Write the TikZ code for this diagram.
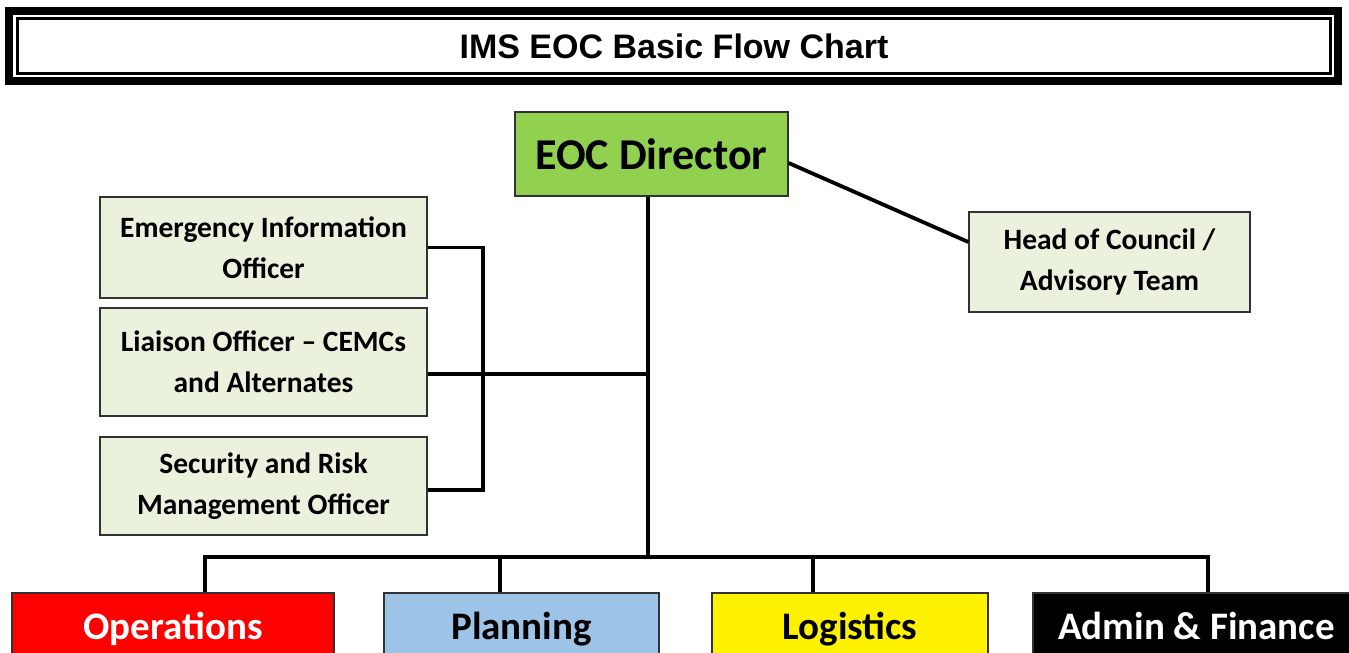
\documentclass[tikz,border=0pt]{standalone}
\usepackage{fontspec}
\setmainfont{Carlito}
\newfontfamily\titlefont{Liberation Sans}
\definecolor{eocgreen}{RGB}{146,208,80}
\definecolor{sidegreen}{RGB}{234,242,221}
\definecolor{planblue}{RGB}{157,195,230}
\definecolor{edgegray}{RGB}{50,50,50}
\begin{document}
\begin{tikzpicture}[x=1pt,y=-1pt,
  box/.style={draw=edgegray, line width=1.3pt, inner sep=0pt, align=center},
  side/.style={box, fill=sidegreen, font=\bfseries\fontsize{29.5}{41}\selectfont},
  dept/.style={box, font=\bfseries\fontsize{39}{42}\selectfont, minimum height=68pt, text height=25pt, text depth=0pt},
  conn/.style={line width=3.8pt}]
\useasboundingbox (0,0) rectangle (1349,653);
\clip (0,0) rectangle (1349,653);
% title frame
\draw[line width=8pt] (9,11) rectangle (1338,81);
\draw[line width=3pt] (17.5,18.5) rectangle (1330.5,73.5);
\node (title) at (674,46) {\titlefont\bfseries\fontsize{34}{40}\selectfont IMS EOC Basic Flow Chart};
% director
\node[box, fill=eocgreen, minimum width=273pt, minimum height=84pt,
      font=\bfseries\fontsize{44}{46}\selectfont] (dir) at (651.5,154) {EOC Director};
% side boxes
\node[side, minimum width=327pt, minimum height=101pt] (emi) at (263.5,247.5) {Emergency Information\\Officer};
\node[side, minimum width=327pt, minimum height=108pt] (lia) at (263.5,362) {Liaison Officer -- CEMCs\\and Alternates};
\node[side, minimum width=327pt, minimum height=98pt] (sec) at (263.5,486) {\raisebox{-4pt}{\parbox{300pt}{\centering Security and Risk\\Management Officer}}};
\node[side, minimum width=281pt, minimum height=100pt] (hoc) at (1109.5,262) {\raisebox{-3pt}{\parbox{260pt}{\centering Head of Council /\\Advisory Team}}};
% departments
\node[dept, fill=red, text=white, minimum width=322pt] (ops) at (173,627) {Operations};
\node[dept, fill=planblue, minimum width=275pt] (pln) at (521.5,627) {Planning};
\node[dept, fill=yellow, minimum width=276pt] (log) at (850,627) {Logistics};
\node[dept, fill=black, text=white, minimum width=327pt] (adm) at (1196.5,627) {Admin \& Finance};
% connectors
\coordinate (stem) at ([xshift=-3.5pt]dir.south);
\draw[conn] (stem) -- ++(0,362);
\draw[conn] ([xshift=32pt]ops.north) -- ++(0,-35) -| ([xshift=11.5pt]adm.north);
\draw[conn] ([xshift=-21.5pt]pln.north) -- ++(0,-35);
\draw[conn] ([xshift=-37pt]log.north) -- ++(0,-35);
\draw[conn] ([yshift=-12pt]lia.east) -- ([yshift=-12pt]lia.east -| stem);
\draw[conn] (emi.east) -- ++(55,0) |- ([yshift=-4pt]sec.east);
\draw[conn] ([yshift=-9pt]dir.east) -- ([yshift=20pt]hoc.west);
\end{tikzpicture}
\end{document}
